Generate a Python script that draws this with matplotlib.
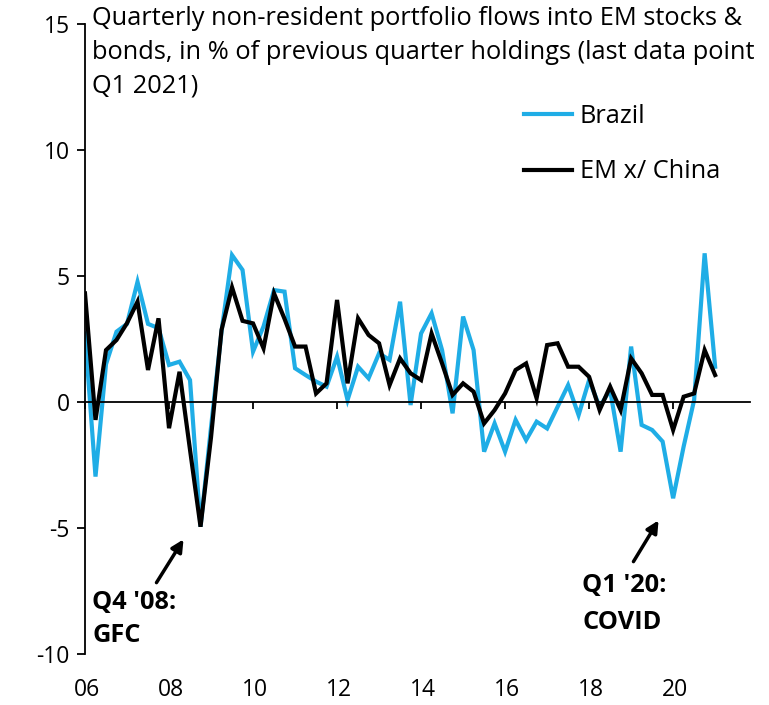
import numpy as np
import pandas as pd
import matplotlib
matplotlib.use("Agg")
import matplotlib.pyplot as plt
from matplotlib.transforms import blended_transform_factory

# Quarterly data Q1 2006 .. Q1 2021
quarters = pd.period_range("2006Q1", "2021Q1", freq="Q")
x = np.array([q.year + (q.quarter - 1) / 4 for q in quarters])

brazil = [2.72, -2.96, 1.5, 2.79, 3.1, 4.77, 3.1, 2.93, 1.47, 1.6,
          0.87, -4.95, -1.0, 2.8, 5.83, 5.24, 2.0, 3.0, 4.44, 4.38,
          1.34, 1.07, 0.81, 0.61, 1.8, 0.08, 1.4, 0.94, 1.93, 1.67,
          3.98, -0.12, 2.72, 3.52, 2.06, -0.45, 3.39, 2.06, -1.97, -0.85,
          -1.97, -0.71, -1.51, -0.78, -1.05, -0.19, 0.67, -0.52, 0.87, -0.19,
          0.48, -1.97, 2.2, -0.91, -1.11, -1.57, -3.82, -1.77, 0.08, 5.9,
          1.4]
em_x_china = [4.31, -0.71, 2.06, 2.46, 3.13, 3.98, 1.27, 3.32, -1.04, 1.2,
              -1.9, -4.95, -1.4, 2.86, 4.55, 3.22, 3.12, 2.13, 4.31, 3.3,
              2.2, 2.2, 0.34, 0.74, 4.05, 0.74, 3.32, 2.66, 2.33, 0.67,
              1.73, 1.14, 0.87, 2.72, 1.53, 0.28, 0.74, 0.41, -0.85, -0.32,
              0.34, 1.27, 1.53, 0.15, 2.26, 2.33, 1.4, 1.4, 1.0, -0.32,
              0.61, -0.32, 1.73, 1.14, 0.28, 0.28, -1.11, 0.21, 0.34, 2.06,
              1.07]

xtick_years = [2006, 2008, 2010, 2012, 2014, 2016, 2018, 2020]
xtick_labels = ["06", "08", "10", "12", "14", "16", "18", "20"]
yticks = [-10, -5, 0, 5, 10, 15]

title_text = ("Quarterly non-resident portfolio flows into EM stocks &\n"
              "bonds, in % of previous quarter holdings (last data point\n"
              "Q1 2021)")

plt.rcParams['font.family'] = ['Open Sans', 'DejaVu Sans']
FS = 16.5
TFS = 18.3

W, H = 769, 705
fig = plt.figure(figsize=(W / 100, H / 100), dpi=100)
ax = fig.add_axes([85 / W, (H - 654) / H, (750 - 85) / W, (654 - 24) / H])

blue = '#1FADE6'
ax.plot(x, brazil, color=blue, lw=3.0, label='Brazil', solid_joinstyle='miter')
ax.plot(x, em_x_china, color='black', lw=3.0, label='EM x/ China', solid_joinstyle='miter')

ax.set_xlim(2006, 2021.83)
ax.set_ylim(-10, 15)

for s in ['top', 'right']:
    ax.spines[s].set_visible(False)
ax.spines['bottom'].set_position(('data', 0))
ax.spines['bottom'].set_linewidth(1.3)
ax.spines['left'].set_linewidth(1.3)

ax.set_yticks(yticks)
ax.set_yticklabels([str(v) for v in yticks], fontsize=FS)
ax.tick_params(axis='y', direction='out', length=6, width=1.3, pad=5)

ax.set_xticks(xtick_years)
ax.set_xticklabels([])
ax.tick_params(axis='x', direction='out', length=5, width=1.3)

trans = blended_transform_factory(ax.transData, ax.transAxes)
for yr, lab in zip(xtick_years, xtick_labels):
    ax.text(yr + 0.05, -0.057, lab, transform=trans, ha='center', va='center', fontsize=FS)

ax.text(92 / W, 1 - 6 / H, title_text, transform=fig.transFigure, ha='left', va='top',
        fontsize=TFS, linespacing=1.45)

ax.legend(loc='upper left', bbox_to_anchor=(524 / W, 1 - 104 / H), bbox_transform=fig.transFigure,
          frameon=False, fontsize=TFS, handlelength=1.9, handletextpad=0.3, labelspacing=1.2,
          borderaxespad=0, borderpad=0)

# annotations
ax.annotate("", xy=(185 / W, 1 - 537 / H), xytext=(155 / W, 1 - 585 / H),
            xycoords=fig.transFigure, textcoords=fig.transFigure,
            arrowprops=dict(arrowstyle='-|>', color='black', lw=2.5, mutation_scale=18))
fig.text(92 / W, 1 - 590 / H, "Q4 '08:\nGFC", ha='left', va='top', fontsize=TFS,
         fontweight='bold', linespacing=1.4)

ax.annotate("", xy=(660 / W, 1 - 518 / H), xytext=(632 / W, 1 - 564 / H),
            xycoords=fig.transFigure, textcoords=fig.transFigure,
            arrowprops=dict(arrowstyle='-|>', color='black', lw=2.5, mutation_scale=18))
fig.text(582 / W, 1 - 573 / H, "Q1 '20:\nCOVID", ha='left', va='top', fontsize=TFS,
         fontweight='bold', linespacing=1.62)

fig.savefig("out.png", dpi=100)
